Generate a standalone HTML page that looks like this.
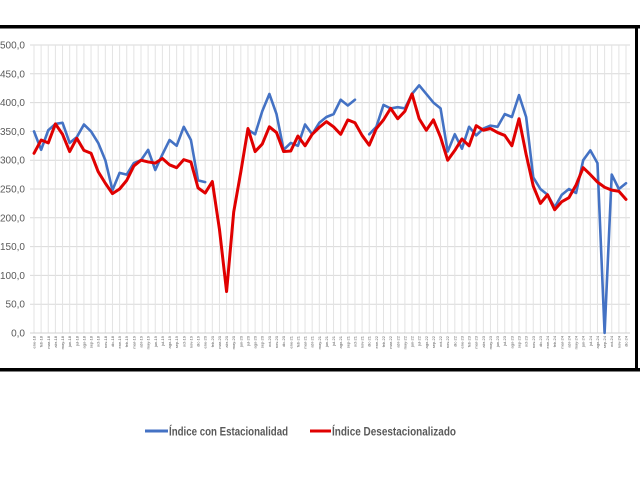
<!DOCTYPE html>
<html><head><meta charset="utf-8"><style>
html,body{margin:0;padding:0;background:#fff;}
svg{display:block;font-family:"Liberation Sans",sans-serif;}
</style></head><body>
<svg id="chart" width="640" height="480" viewBox="0 0 640 480" xmlns="http://www.w3.org/2000/svg">
<rect x="0" y="0" width="640" height="480" fill="#fff"/>
<g id="frame">
<rect x="0" y="25" width="640" height="3.5" fill="#000"/>
<rect x="0" y="368" width="640" height="3.5" fill="#000"/>
<rect x="635" y="25" width="3" height="346" fill="#000"/>
</g>
<g id="grid"></g>
<g id="yaxis"></g>
<g id="xaxis"></g>
<g id="series"></g>
<g id="legend">
<g>
<line x1="145" y1="431" x2="168" y2="431" stroke="#4472C4" stroke-width="3"/>
<text x="169" y="435.5" font-size="12" font-weight="bold" fill="#595959" textLength="119" lengthAdjust="spacingAndGlyphs">Índice con Estacionalidad</text>
</g>
<g>
<line x1="310" y1="431" x2="331" y2="431" stroke="#E00000" stroke-width="3"/>
<text x="332" y="435.5" font-size="12" font-weight="bold" fill="#595959" textLength="124" lengthAdjust="spacingAndGlyphs">Índice Desestacionalizado</text>
</g>
</g>
</svg>
<script>
const months = ["ene","feb","mar","abr","may","jun","jul","ago","sep","oct","nov","dic"];
const years = ["18","19","20","21","22","23","24"];
const yTicks = [0,50,100,150,200,250,300,350,400,450,500];
const blueValues = [350,318,352,363,365,330,340,362,350,330,300,248,
278,275,295,300,318,283,310,335,325,358,335,265,262,
null,null,null,null,null,
353,345,385,415,380,318,330,325,362,345,365,
375,380,405,395,405,null,
345,358,396,390,392,390,415,430,415,400,390,315,345,320,358,343,355,360,358,380,375,413,375,270,250,240,218,240,250,243,300,317,295,0,275,250,260];
const redValues = [312,335,330,363,345,315,338,317,312,280,260,242,250,265,290,300,297,295,303,292,287,301,297,252,243,
263,180,72,210,280,
355,315,328,358,348,315,316,342,325,345,
357,367,358,345,370,365,343,326,355,370,390,372,385,415,372,352,370,340,300,317,337,325,360,352,355,348,343,325,372,310,255,225,240,214,228,235,257,287,275,262,253,248,246,232];
const categories = [];
years.forEach(y => months.forEach(m => categories.push(m + "-" + y)));

const NS = "http://www.w3.org/2000/svg";
const X0 = 34, X1 = 626, Y0 = 333, Y1 = 45, VMAX = 500;
function xs(i){ return X0 + i * (X1 - X0) / (categories.length - 1); }
function ys(v){ return Y0 - v * (Y0 - Y1) / VMAX; }
function mk(tag, attrs, parent){
  const e = document.createElementNS(NS, tag);
  for (const k in attrs) e.setAttribute(k, attrs[k]);
  parent.appendChild(e);
  return e;
}
const grid = document.getElementById("grid");
const yaxis = document.getElementById("yaxis");
const xaxis = document.getElementById("xaxis");
const series = document.getElementById("series");

yTicks.forEach(t => {
  const l = mk("line", {x1: 30, x2: 630, y1: ys(t), y2: ys(t), stroke: "#d9d9d9", "stroke-width": 1}, grid);
  
  
  const tx = mk("text", {x: 25, y: ys(t) + 3.5, "font-size": 10, fill: "#595959", "text-anchor": "end"}, yaxis);
  tx.textContent = t.toFixed(1).replace(".", ",");
  
  
});
categories.forEach((c, i) => {
  const l = mk("line", {x1: xs(i), x2: xs(i), y1: Y1, y2: Y0, stroke: "#e3e3e3", "stroke-width": 1}, grid);
  
  
  const tx = mk("text", {x: 0, y: 0, "font-size": 4, fill: "#595959", "text-anchor": "end",
    transform: "translate(" + (xs(i) + 1.5) + ",336) rotate(-90)"}, xaxis);
  tx.textContent = c;
  
  
});
mk("line", {x1: 30, x2: 630, y1: Y0, y2: Y0, stroke: "#d0d0d0", "stroke-width": 1}, grid);

function drawSeries(vals, color, width, name){
  let d = "", pen = false;
  vals.forEach((v, i) => {
    if (v === null) { pen = false; return; }
    d += (pen ? "L" : "M") + xs(i).toFixed(2) + " " + ys(v).toFixed(2) + " ";
    pen = true;
  });
  const p = mk("path", {d: d, fill: "none", stroke: color, "stroke-width": width, "stroke-linejoin": "round", "stroke-linecap": "round"}, series);
  
  
}
drawSeries(blueValues, "#4472C4", 2.6, "line-indice-con-estacionalidad");
drawSeries(redValues, "#E00000", 3, "line-indice-desestacionalizado");
</script>
</body></html>
